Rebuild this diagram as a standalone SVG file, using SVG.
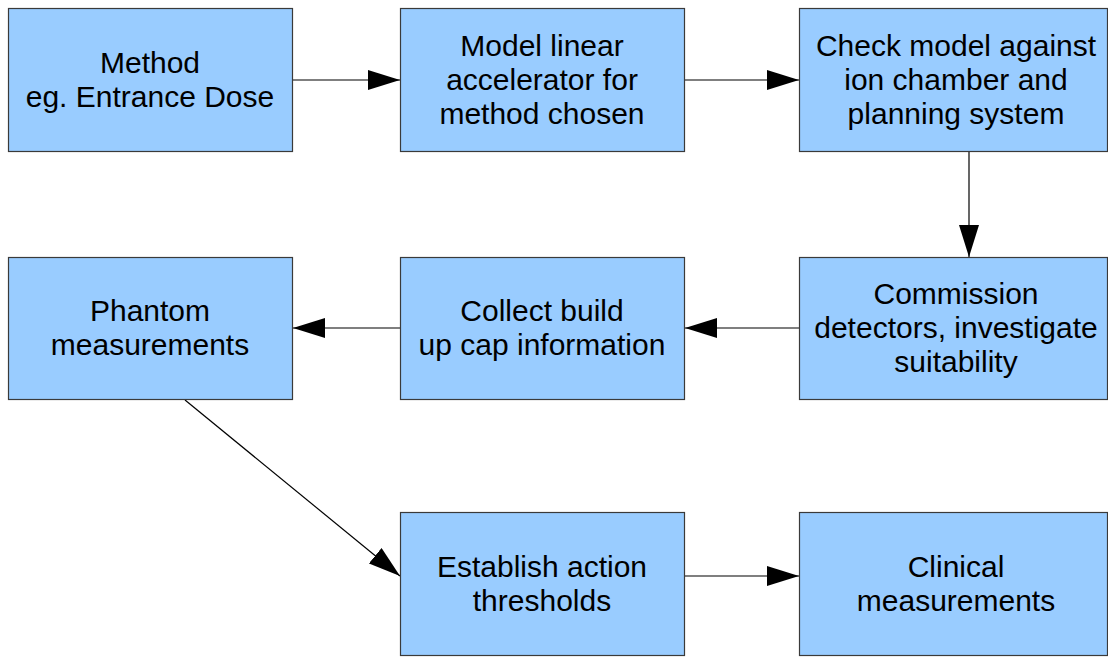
<svg xmlns="http://www.w3.org/2000/svg" width="1108" height="657" viewBox="0 0 1108 657">
  <style>
    .box { fill: #99ccff; stroke: #3a3a3a; stroke-width: 1.2; }
    .lbl { font-family: "Liberation Sans", Arial, sans-serif; font-size: 30px; fill: #000; text-anchor: middle; }
    .edge { stroke: #000; stroke-width: 1.2; fill: none; marker-end: url(#head); }
  </style>
  <defs>
    <marker id="head" markerUnits="userSpaceOnUse" markerWidth="32" markerHeight="20" refX="32" refY="10" orient="auto">
      <path d="M0,0 L32,10 L0,20 Z" fill="#000"/>
    </marker>
  </defs>

  <g id="connectors">
    <line class="edge" x1="293" y1="80" x2="400" y2="80"/>
    <line class="edge" x1="685" y1="80" x2="799" y2="80"/>
    <line class="edge" x1="969" y1="152" x2="969" y2="257"/>
    <line class="edge" x1="799" y1="328" x2="685" y2="328"/>
    <line class="edge" x1="400" y1="328" x2="293" y2="328"/>
    <line class="edge" x1="185" y1="400" x2="400" y2="576"/>
    <line class="edge" x1="685" y1="576" x2="799" y2="576"/>
  </g>

  <g id="method">
    <rect class="box" x="8.5" y="8.5" width="284" height="143"/>
    <text class="lbl" x="150" y="73">Method</text>
    <text class="lbl" x="150" y="107">eg. Entrance Dose</text>
  </g>

  <g id="model-linac">
    <rect class="box" x="400.5" y="8.5" width="284" height="143"/>
    <text class="lbl" x="542" y="56">Model linear</text>
    <text class="lbl" x="542" y="90">accelerator for</text>
    <text class="lbl" x="542" y="124">method chosen</text>
  </g>

  <g id="check-model">
    <rect class="box" x="799.5" y="8.5" width="308" height="143"/>
    <text class="lbl" x="956" y="56">Check model against</text>
    <text class="lbl" x="956" y="90">ion chamber and</text>
    <text class="lbl" x="956" y="124">planning system</text>
  </g>

  <g id="commission">
    <rect class="box" x="799.5" y="257.5" width="308" height="142"/>
    <text class="lbl" x="956" y="304">Commission</text>
    <text class="lbl" x="956" y="338">detectors, investigate</text>
    <text class="lbl" x="956" y="372">suitability</text>
  </g>

  <g id="buildup-cap">
    <rect class="box" x="400.5" y="257.5" width="284" height="142"/>
    <text class="lbl" x="542" y="321">Collect build</text>
    <text class="lbl" x="542" y="355">up cap information</text>
  </g>

  <g id="phantom">
    <rect class="box" x="8.5" y="257.5" width="284" height="142"/>
    <text class="lbl" x="150" y="321">Phantom</text>
    <text class="lbl" x="150" y="355">measurements</text>
  </g>

  <g id="thresholds">
    <rect class="box" x="400.5" y="512.5" width="284" height="143"/>
    <text class="lbl" x="542" y="577">Establish action</text>
    <text class="lbl" x="542" y="611">thresholds</text>
  </g>

  <g id="clinical">
    <rect class="box" x="799.5" y="512.5" width="308" height="143"/>
    <text class="lbl" x="956" y="577">Clinical</text>
    <text class="lbl" x="956" y="611">measurements</text>
  </g>
</svg>
